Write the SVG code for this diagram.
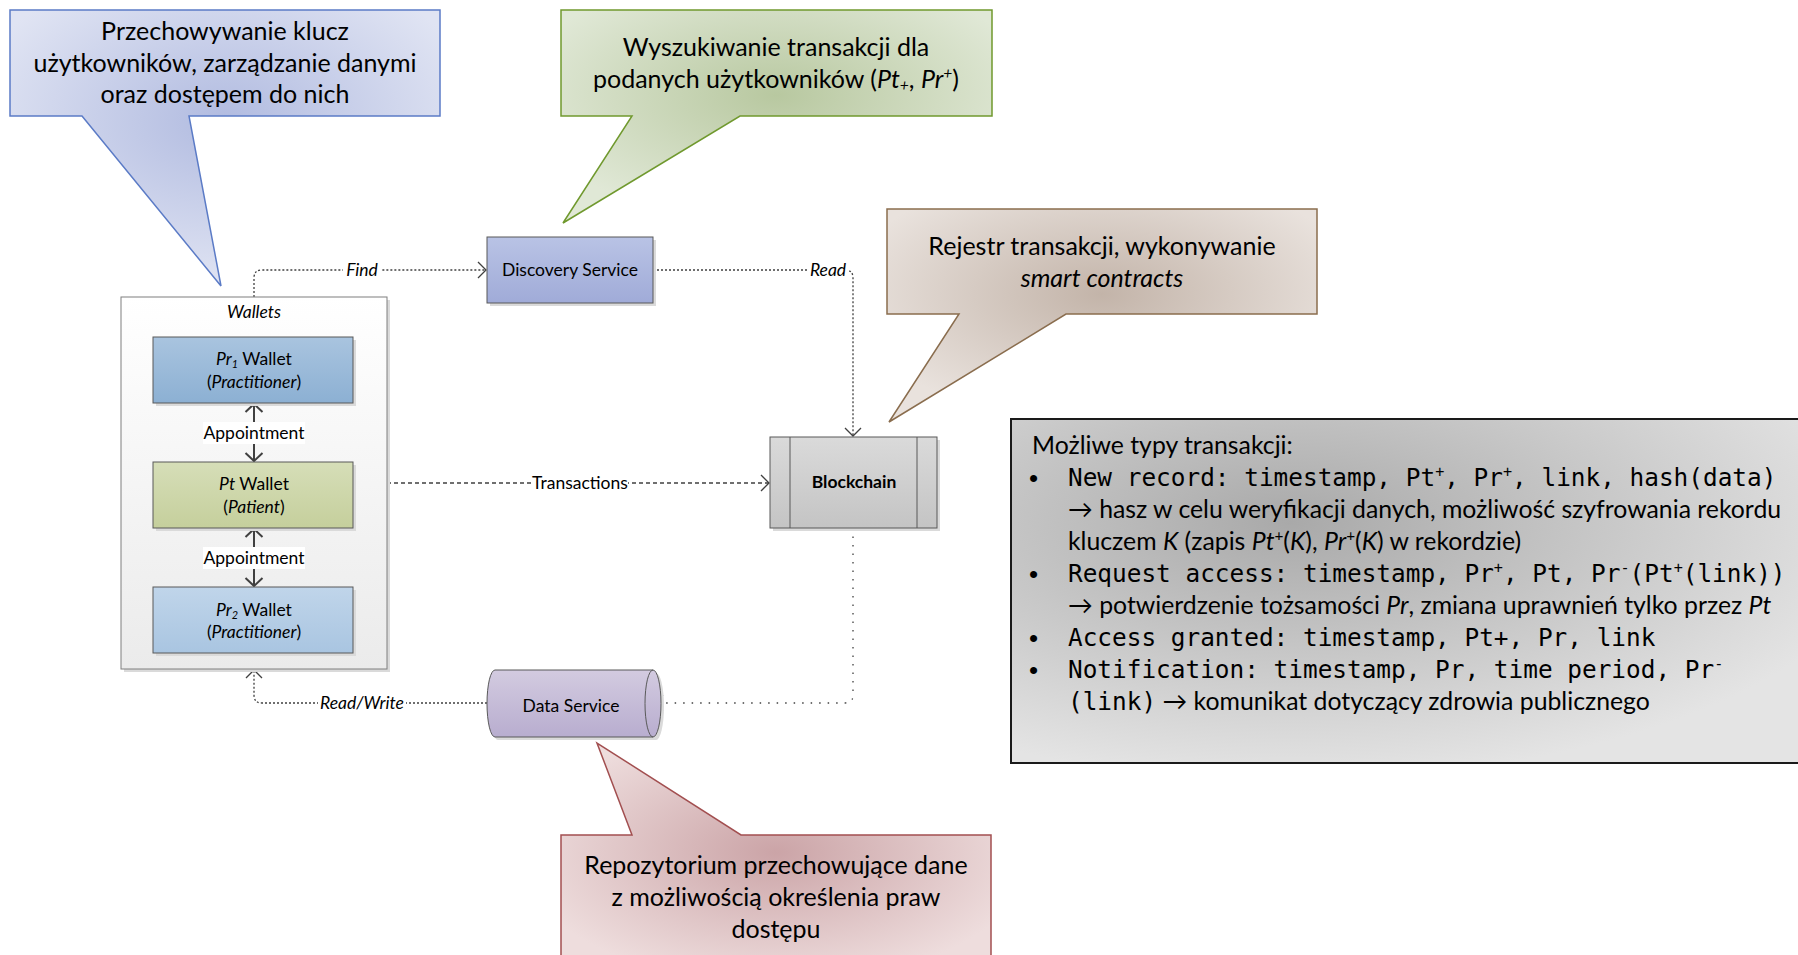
<svg xmlns="http://www.w3.org/2000/svg" width="1798" height="955" viewBox="0 0 1798 955">
<defs>
<style>
.cal{font-family:Lato,'DejaVu Sans',sans-serif;fill:#000}
.big{font-size:25px}
.box{font-size:24.8px}
.bul{font-family:'Liberation Sans',sans-serif;font-size:26px}
.lbl{font-size:17.5px}
.mono{font-family:'DejaVu Sans Mono','Liberation Mono',monospace;font-size:24.4px}
.it{font-style:italic}
.b{font-weight:bold}
.sup{baseline-shift:super;font-size:62%}
.sub{baseline-shift:-3px;font-size:62%}
.node{stroke:#595959;stroke-width:1}
.shadow{fill:#dadada}
.conn{fill:none;stroke:#404040;stroke-width:1.3}
.dot{stroke-dasharray:2 2}
.dash{stroke-dasharray:4 3}
.sparse{stroke-dasharray:1.5 7}
.lblbg{fill:#fff}
</style>
<radialGradient id="gBlue" cx="0.5" cy="0.4" r="0.6"><stop offset="0" stop-color="#b1bbe0"/><stop offset="1" stop-color="#e0e4f3"/></radialGradient>
<radialGradient id="gGreen" cx="0.5" cy="0.4" r="0.6"><stop offset="0" stop-color="#b8c8a0"/><stop offset="1" stop-color="#e0e8d6"/></radialGradient>
<radialGradient id="gBrown" cx="0.5" cy="0.4" r="0.6"><stop offset="0" stop-color="#c3b4a9"/><stop offset="1" stop-color="#e9e2dd"/></radialGradient>
<radialGradient id="gRed" cx="0.5" cy="0.5" r="0.6"><stop offset="0" stop-color="#cba4a7"/><stop offset="1" stop-color="#eedddd"/></radialGradient>
<radialGradient id="gGray" cx="0.35" cy="0.3" r="0.75"><stop offset="0" stop-color="#a9a9a9"/><stop offset="1" stop-color="#e4e4e4"/></radialGradient>
<linearGradient id="gPr1" x1="0" y1="0" x2="0" y2="1"><stop offset="0" stop-color="#a9c4df"/><stop offset="1" stop-color="#8cb0d3"/></linearGradient>
<linearGradient id="gPt" x1="0" y1="0" x2="0" y2="1"><stop offset="0" stop-color="#d6deb8"/><stop offset="1" stop-color="#c5cf9c"/></linearGradient>
<linearGradient id="gPr2" x1="0" y1="0" x2="0" y2="1"><stop offset="0" stop-color="#c0d5ea"/><stop offset="1" stop-color="#a9c5e1"/></linearGradient>
<linearGradient id="gDisc" x1="0" y1="0" x2="0" y2="1"><stop offset="0" stop-color="#b9c3e5"/><stop offset="1" stop-color="#a0abd8"/></linearGradient>
<linearGradient id="gBlock" x1="0" y1="0" x2="0" y2="1"><stop offset="0" stop-color="#dadada"/><stop offset="1" stop-color="#c4c4c4"/></linearGradient>
<linearGradient id="gData" x1="0" y1="0" x2="0" y2="1"><stop offset="0" stop-color="#d3cbe0"/><stop offset="1" stop-color="#b8adcf"/></linearGradient>
<linearGradient id="gWall" x1="0" y1="0" x2="0" y2="1"><stop offset="0" stop-color="#ffffff"/><stop offset="1" stop-color="#ebebeb"/></linearGradient>
<marker id="arr" markerUnits="userSpaceOnUse" viewBox="0 0 10 18" markerWidth="10" markerHeight="18" refX="9" refY="9" orient="auto"><path d="M1,1 L9,9 L1,17" fill="none" stroke="#404040" stroke-width="1.3"/></marker>
<marker id="arrApp" markerUnits="userSpaceOnUse" viewBox="0 0 10 20" markerWidth="10" markerHeight="20" refX="9" refY="10" orient="auto-start-reverse"><path d="M1,1.5 L9,10 L1,18.5" fill="none" stroke="#404040" stroke-width="2"/></marker>
</defs>
<rect width="1798" height="955" fill="#fff"/>

<!-- callouts -->
<g id="callout-wallets">
<path d="M10 10 H440 V116 H189 L221 286 L82 116 H10 Z" fill="url(#gBlue)" stroke="#5b7bc6" stroke-width="1.5"/>
<text class="cal big" text-anchor="middle"><tspan x="225" y="40">Przechowywanie klucz</tspan><tspan x="225" y="72">użytkowników, zarządzanie danymi</tspan><tspan x="225" y="103">oraz dostępem do nich</tspan></text>
</g>
<g id="callout-discovery">
<path d="M561 10 H992 V116 H740 L563 223 L632 116 H561 Z" fill="url(#gGreen)" stroke="#70992e" stroke-width="1.5"/>
<text class="cal big" text-anchor="middle"><tspan x="776" y="56">Wyszukiwanie transakcji dla</tspan><tspan x="776" y="88">podanych użytkowników (<tspan class="it">Pt<tspan class="sub">+</tspan></tspan>, <tspan class="it">Pr<tspan class="sup">+</tspan></tspan>)</tspan></text>
</g>
<g id="callout-blockchain">
<path d="M887 209 H1317 V314 H1066 L889 422 L959 314 H887 Z" fill="url(#gBrown)" stroke="#8a6d4e" stroke-width="1.5"/>
<text class="cal big" text-anchor="middle"><tspan x="1102" y="255">Rejestr transakcji, wykonywanie</tspan><tspan x="1102" y="287" class="it">smart contracts</tspan></text>
</g>
<g id="callout-data">
<path d="M561 835 H632 L597 743 L741 835 H991 V962 H561 Z" fill="url(#gRed)" stroke="#a24f50" stroke-width="1.5"/>
<text class="cal big" text-anchor="middle"><tspan x="776" y="874">Repozytorium przechowujące dane</tspan><tspan x="776" y="906">z możliwością określenia praw</tspan><tspan x="776" y="938">dostępu</tspan></text>
</g>

<!-- transaction types box -->
<g id="transaction-types">
<rect x="1011" y="419" width="800" height="344" fill="url(#gGray)" stroke="#1a1a1a" stroke-width="2"/>
<text class="cal box" x="1032" y="454">Możliwe typy transakcji:</text>
<text class="bul" x="1029" y="487">•</text>
<text class="mono" x="1068" y="486">New record: timestamp, Pt<tspan class="sup">+</tspan>, Pr<tspan class="sup">+</tspan>, link, hash(data)</text>
<text class="cal box" x="1068" y="518">→ hasz w celu weryfikacji danych, możliwość szyfrowania rekordu</text>
<text class="cal box" x="1068" y="550">kluczem <tspan class="it">K</tspan> (zapis <tspan class="it">Pt</tspan><tspan class="sup">+</tspan>(<tspan class="it">K</tspan>), <tspan class="it">Pr</tspan><tspan class="sup">+</tspan>(<tspan class="it">K</tspan>) w rekordzie)</text>
<text class="bul" x="1029" y="583">•</text>
<text class="mono" x="1068" y="582">Request access: timestamp, Pr<tspan class="sup">+</tspan>, Pt, Pr<tspan class="sup">-</tspan>(Pt<tspan class="sup">+</tspan>(link))</text>
<text class="cal box" x="1068" y="614">→ potwierdzenie tożsamości <tspan class="it">Pr</tspan>, zmiana uprawnień tylko przez <tspan class="it">Pt</tspan></text>
<text class="bul" x="1029" y="647">•</text>
<text class="mono" x="1068" y="646">Access granted: timestamp, Pt+, Pr, link</text>
<text class="bul" x="1029" y="679">•</text>
<text class="mono" x="1068" y="678">Notification: timestamp, Pr, time period, Pr<tspan class="sup">-</tspan></text>
<text class="cal box" x="1068" y="710"><tspan class="mono">(link)</tspan> → komunikat dotyczący zdrowia publicznego</text>
</g>

<!-- connectors -->
<g id="connectors">
<path class="conn dot" d="M254 297 V278 Q254 270 262 270 H486" marker-end="url(#arr)"/>
<path class="conn dot" d="M653 270 H845 Q853 270 853 278 V436" marker-end="url(#arr)"/>
<path class="conn dash" d="M387 483 H769" marker-end="url(#arr)"/>
<path class="conn sparse" d="M853 528 V695 Q853 703 845 703 H655" marker-end="url(#arr)"/>
<path class="conn dot" d="M487 703 H262 Q254 703 254 695 V670" marker-end="url(#arr)"/>
<rect class="lblbg" x="343" y="261" width="38" height="19"/>
<text class="cal lbl it" x="362" y="276" text-anchor="middle">Find</text>
<rect class="lblbg" x="808" y="261" width="40" height="19"/>
<text class="cal lbl it" x="828" y="276" text-anchor="middle">Read</text>
<rect class="lblbg" x="533" y="474" width="95" height="19"/>
<text class="cal lbl" x="580" y="489" text-anchor="middle">Transactions</text>
<rect class="lblbg" x="318" y="694" width="88" height="19"/>
<text class="cal lbl it" x="362" y="709" text-anchor="middle">Read/Write</text>
</g>

<!-- wallets container -->
<g id="wallets">
<rect class="shadow" x="124" y="300" width="266" height="372"/>
<rect x="121" y="297" width="266" height="372" fill="url(#gWall)" stroke="#7f7f7f" stroke-width="1"/>
<text class="cal lbl it" x="254" y="318" text-anchor="middle">Wallets</text>
</g>
<g id="appointments">
<path d="M254 404 V461" stroke="#404040" stroke-width="2" fill="none" marker-start="url(#arrApp)" marker-end="url(#arrApp)"/>
<path d="M254 529 V586" stroke="#404040" stroke-width="2" fill="none" marker-start="url(#arrApp)" marker-end="url(#arrApp)"/>
<rect class="lblbg" x="203" y="422" width="102" height="22"/>
<text class="cal lbl" x="254" y="439" text-anchor="middle">Appointment</text>
<rect class="lblbg" x="203" y="547" width="102" height="22"/>
<text class="cal lbl" x="254" y="564" text-anchor="middle">Appointment</text>
</g>
<g id="pr1-wallet">
<rect class="shadow" x="156" y="340" width="200" height="66"/>
<rect class="node" x="153" y="337" width="200" height="66" fill="url(#gPr1)"/>
<text class="cal lbl" text-anchor="middle"><tspan x="254" y="365"><tspan class="it">Pr<tspan class="sub">1</tspan></tspan> Wallet</tspan><tspan x="254" y="388">(<tspan class="it">Practitioner</tspan>)</tspan></text>
</g>
<g id="pt-wallet">
<rect class="shadow" x="156" y="465" width="200" height="66"/>
<rect class="node" x="153" y="462" width="200" height="66" fill="url(#gPt)"/>
<text class="cal lbl" text-anchor="middle"><tspan x="254" y="490"><tspan class="it">Pt</tspan> Wallet</tspan><tspan x="254" y="513">(<tspan class="it">Patient</tspan>)</tspan></text>
</g>
<g id="pr2-wallet">
<rect class="shadow" x="156" y="590" width="200" height="66"/>
<rect class="node" x="153" y="587" width="200" height="66" fill="url(#gPr2)"/>
<text class="cal lbl" text-anchor="middle"><tspan x="254" y="616"><tspan class="it">Pr<tspan class="sub">2</tspan></tspan> Wallet</tspan><tspan x="254" y="638">(<tspan class="it">Practitioner</tspan>)</tspan></text>
</g>

<g id="discovery-service">
<rect class="shadow" x="490" y="240" width="166" height="66"/>
<rect class="node" x="487" y="237" width="166" height="66" fill="url(#gDisc)"/>
<text class="cal lbl" x="570" y="276" text-anchor="middle">Discovery Service</text>
</g>
<g id="blockchain">
<rect class="shadow" x="773" y="440" width="167" height="91"/>
<rect class="node" x="770" y="437" width="167" height="91" fill="url(#gBlock)"/>
<path class="node" d="M790 437 V528 M917 437 V528" fill="none"/>
<text class="cal lbl b" x="854" y="488" text-anchor="middle">Blockchain</text>
</g>
<g id="data-service">
<path d="M498 673 H656 A8 33.5 0 0 1 656 740 H498 A8 33.5 0 0 1 498 673 Z" class="shadow"/>
<path class="node" d="M495 670 H653 A8 33.5 0 0 1 653 737 H495 A8 33.5 0 0 1 495 670 Z" fill="url(#gData)"/>
<path class="node" d="M653 670 A8 33.5 0 0 0 653 737" fill="none"/>
<text class="cal lbl" x="571" y="712" text-anchor="middle">Data Service</text>
</g>
</svg>
